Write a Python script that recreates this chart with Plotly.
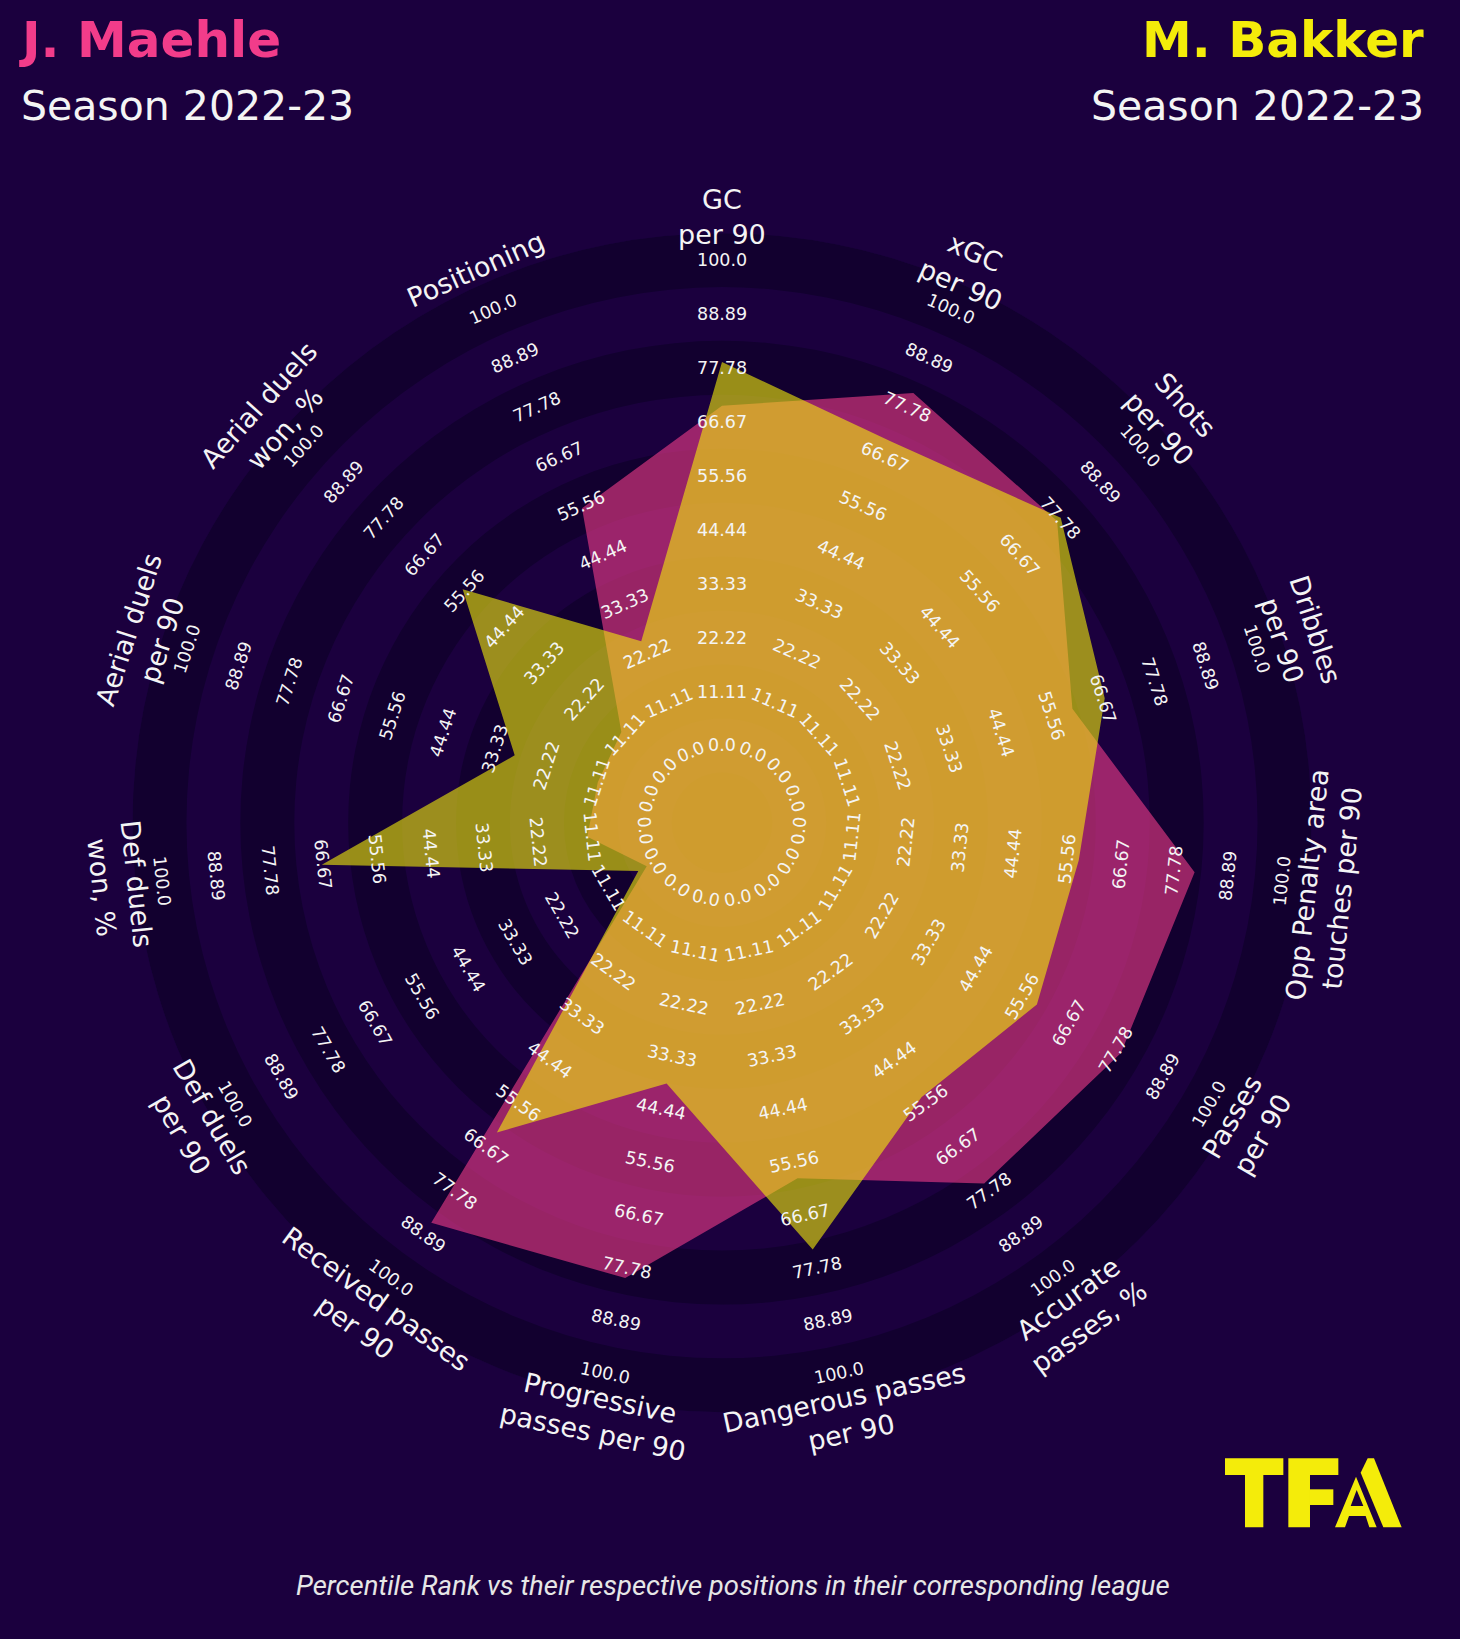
import numpy as np
import plotly.graph_objects as go

# ---------------- data ----------------
params = ["GC<br>per 90", "xGC<br>per 90", "Shots<br>per 90", "Dribbles<br>per 90",
          "Opp Penalty area<br>touches per 90", "Passes<br>per 90", "Accurate<br>passes, %",
          "Dangerous passes<br>per 90", "Progressive<br>passes per 90", "Received passes<br>per 90",
          "Def duels<br>per 90", "Def duels<br>won, %", "Aerial duels<br>per 90",
          "Aerial duels<br>won, %", "Positioning"]
maehle = [70, 81, 77, 60, 82, 79, 76, 59, 80, 86, 2, 12, 11, 12, 55]
bakker = [79, 70, 78, 67, 58, 59, 54, 74, 39, 63, 4, 67, 29, 56, 25]
range_values = [0, 11.11, 22.22, 33.33, 44.44, 55.56, 66.67, 77.78, 88.89, 100.0]
range_text = ["0.0", "11.11", "22.22", "33.33", "44.44", "55.56", "66.67", "77.78", "88.89", "100.0"]
ring_edges = [-5.555, 5.555, 16.665, 27.775, 38.885, 49.995, 61.105, 72.215, 83.325, 94.435, 105.545]

# ---------------- style / geometry ----------------
W, H = 1460, 1639
CX, CY = 722, 822.7
RMIN, RMAX = -15.91, 105.545
R = 589.5
BG = "#1B003E"
DARK = "#12002F"
PINK = "#F23C8A"
YELLOW = "#F4EC0A"
TXT = "#F4F4F4"

n = len(params)
step = 360 / n
thetas = [i * step for i in range(n)]


def to_px(v, t, rpx=None):
    a = np.deg2rad(90 - t)
    if rpx is None:
        rpx = R * (v - RMIN) / (RMAX - RMIN)
    return CX + rpx * np.cos(a), CY - rpx * np.sin(a)


def rot_for(t):
    th = (90 - t + 180) % 360 - 180
    return th - 90 if th >= 0 else th + 90


fig = go.Figure()

# dark rings on a background-coloured disc
for k in range(0, len(ring_edges) - 1):
    if k % 2 == 1:
        fig.add_trace(go.Barpolar(r=[ring_edges[k + 1] - ring_edges[k]], base=[ring_edges[k]],
                                  theta=[0], width=[360], marker_color=DARK,
                                  marker_line_width=0, hoverinfo="skip", showlegend=False))
fig.add_trace(go.Barpolar(r=[ring_edges[0] - RMIN], base=[RMIN], theta=[0], width=[360],
                          marker_color=DARK, marker_line_width=0, hoverinfo="skip", showlegend=False))

fig.add_trace(go.Scatterpolar(r=maehle + [maehle[0]], theta=thetas + [thetas[0]], mode="lines",
                              fill="toself", fillcolor="rgba(242,60,138,0.6)", line=dict(width=0),
                              name="J. Maehle", showlegend=False))
fig.add_trace(go.Scatterpolar(r=bakker + [bakker[0]], theta=thetas + [thetas[0]], mode="lines",
                              fill="toself", fillcolor="rgba(244,236,10,0.6)", line=dict(width=0),
                              name="M. Bakker", showlegend=False))

annotations = []
# range labels
for t in thetas:
    rot = rot_for(t)
    for v, s in zip(range_values, range_text):
        x, y = to_px(v, t)
        annotations.append(dict(x=x / W, y=1 - y / H, xref="paper", yref="paper", text=s,
                                showarrow=False, textangle=-rot, xanchor="center", yanchor="middle",
                                font=dict(family="DejaVu Sans", size=17.5, color=TXT)))
# param labels
for t, p in zip(thetas, params):
    rot = rot_for(t)
    x, y = to_px(0, t, rpx=606)
    annotations.append(dict(x=x / W, y=1 - y / H, xref="paper", yref="paper", text=p,
                            showarrow=False, textangle=-rot, xanchor="center", yanchor="middle",
                            font=dict(family="DejaVu Sans", size=27, color=TXT)))

# titles
annotations += [
    dict(x=17 / W, y=1 - 40 / H, xref="paper", yref="paper", text="<b>J. Maehle</b>", showarrow=False,
         xanchor="left", yanchor="middle", font=dict(family="DejaVu Sans", size=50, color=PINK)),
    dict(x=19 / W, y=1 - 106 / H, xref="paper", yref="paper", text="Season 2022-23", showarrow=False,
         xanchor="left", yanchor="middle", font=dict(family="DejaVu Sans", size=41, color=TXT)),
    dict(x=1426 / W, y=1 - 40 / H, xref="paper", yref="paper", text="<b>M. Bakker</b>", showarrow=False,
         xanchor="right", yanchor="middle", font=dict(family="DejaVu Sans", size=50, color=YELLOW)),
    dict(x=1426 / W, y=1 - 106 / H, xref="paper", yref="paper", text="Season 2022-23", showarrow=False,
         xanchor="right", yanchor="middle", font=dict(family="DejaVu Sans", size=41, color=TXT)),
    dict(x=733 / W, y=1 - 1585 / H, xref="paper", yref="paper",
         text="<i>Percentile Rank vs their respective positions in their corresponding league</i>",
         showarrow=False, xanchor="center", yanchor="middle",
         font=dict(family="Roboto", size=27.5, color="#E6E6E6")),
]

# TFA logo (decorative shapes), pixel coords converted to paper
def path(points):
    s = ""
    for i, (px, py) in enumerate(points):
        s += ("M" if i == 0 else "L") + f"{px / W:.5f},{1 - py / H:.5f} "
    return s + "Z"

LX, LY = 1200, 1440
def lp(pts):
    return [(LX + a / 3, LY + b / 3) for a, b in pts]

logo_polys = [
    lp([(75, 55), (250, 55), (250, 105), (75, 105)]),
    lp([(135, 105), (190, 105), (190, 262), (135, 262)]),
    lp([(265, 55), (415, 55), (415, 105), (265, 105)]),
    lp([(265, 105), (330, 105), (330, 262), (265, 262)]),
    lp([(330, 148), (400, 148), (400, 195), (330, 195)]),
    lp([(482, 98), (503, 55), (522, 55), (605, 262), (550, 262)]),
    lp([(405, 262), (468, 110), (530, 262), (508, 262), (497, 228), (447, 228), (435, 262)]),
]
shapes = [dict(type="path", path=path(p), xref="paper", yref="paper", fillcolor=YELLOW,
               line=dict(width=0), layer="above") for p in logo_polys]
shapes.append(dict(type="path", path=path(lp([(470, 150), (490, 198), (452, 198)])), xref="paper",
                   yref="paper", fillcolor=BG, line=dict(width=0), layer="above"))

fig.update_layout(
    width=W, height=H, paper_bgcolor=BG, plot_bgcolor=BG,
    margin=dict(l=0, r=0, t=0, b=0),
    polar=dict(
        domain=dict(x=[(CX - R) / W, (CX + R) / W], y=[1 - (CY + R) / H, 1 - (CY - R) / H]),
        bgcolor=BG, bargap=0, barmode="overlay",
        radialaxis=dict(range=[RMIN, RMAX], visible=False, showgrid=False),
        angularaxis=dict(rotation=90, direction="clockwise", thetaunit="degrees",
                         visible=False, showgrid=False),
    ),
    annotations=annotations, shapes=shapes, showlegend=False,
)

fig.write_html("out.html", config={"displayModeBar": False, "staticPlot": True},
               post_script="document.body.style.margin='0';document.body.style.background='" + BG + "';")
